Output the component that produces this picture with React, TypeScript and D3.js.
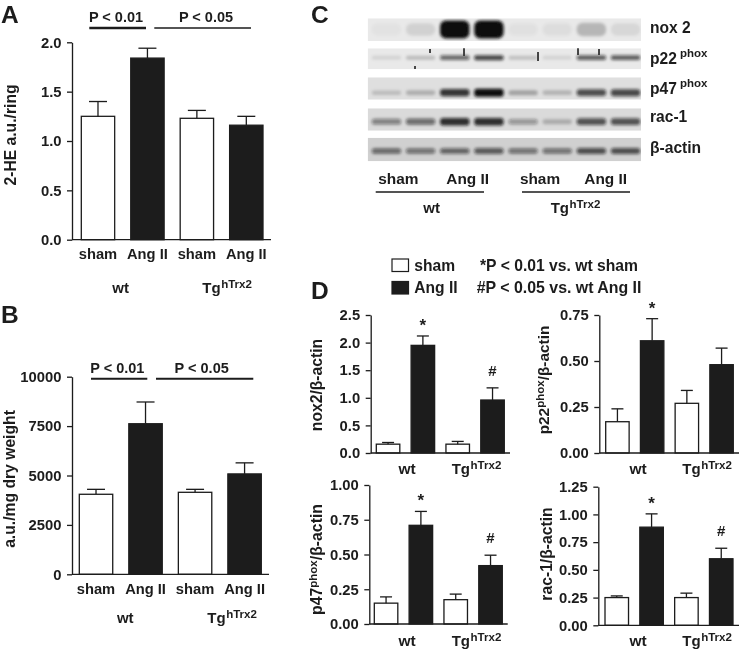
import React, { useEffect, useRef } from "react";
import * as d3 from "d3";

const groups = ["sham", "Ang II", "sham", "Ang II"];

// panel A + B
const heValues = [1.25, 1.84, 1.23, 1.16];
const heTops = [1.4, 1.94, 1.31, 1.25];
const auValues = [4050, 7620, 4150, 5080];
const auTops = [4300, 8720, 4300, 5640];

// panel D
const noxValues = [0.16, 1.95, 0.16, 0.96];
const noxTops = [0.19, 2.12, 0.21, 1.18];
const p22Values = [0.17, 0.61, 0.27, 0.48];
const p22Tops = [0.24, 0.73, 0.34, 0.57];
const p47Values = [0.15, 0.71, 0.175, 0.42];
const p47Tops = [0.195, 0.81, 0.215, 0.495];
const racValues = [0.25, 0.885, 0.25, 0.6];
const racTops = [0.265, 1.005, 0.29, 0.695];

const noxMarks = ["", "*", "", "#"];
const p22Marks = ["", "*", "", ""];
const p47Marks = ["", "*", "", "#"];
const racMarks = ["", "*", "", "#"];

// panel C, band darkness per lane
const lanes = [0, 1, 2, 3, 4, 5, 6, 7];
const noxBands = [0.03, 0.1, 1, 1, 0.04, 0.05, 0.22, 0.08];
const p22Bands = [0.1, 0.2, 0.6, 0.75, 0.18, 0.1, 0.65, 0.65];
const p47Bands = [0.16, 0.22, 0.82, 1, 0.28, 0.2, 0.7, 0.72];
const racBands = [0.45, 0.55, 0.85, 0.85, 0.35, 0.22, 0.68, 0.68];
const actinBands = [0.55, 0.5, 0.58, 0.62, 0.5, 0.5, 0.68, 0.68];

// dust and scratches on the p22 strip: [x, top, bottom]
const p22Scratches = [
  [464, 48, 56],
  [538, 52, 61],
  [578, 48, 55],
  [599, 49, 55],
  [430, 49, 53],
  [415, 66, 69],
];

const INK = "#1c1c1c";
const FONT = "'Liberation Sans', Arial, sans-serif";

const App = () => {
  const svgRef = useRef<SVGSVGElement>(null);

  useEffect(() => {
    const svg = d3.select(svgRef.current);
    svg.selectAll("*").remove();

    const defs = svg.append("defs");
    defs.append("filter").attr("id", "soft")
      .attr("x", "-2%").attr("y", "-2%").attr("width", "104%").attr("height", "104%")
      .append("feGaussianBlur").attr("stdDeviation", 0.3);
    defs.append("filter").attr("id", "band")
      .attr("x", "-10%").attr("y", "-80%").attr("width", "120%").attr("height", "260%")
      .append("feGaussianBlur").attr("stdDeviation", 1.6);
    defs.append("filter").attr("id", "speck")
      .attr("filterUnits", "userSpaceOnUse")
      .attr("x", 360).attr("y", 40).attr("width", 290).attr("height", 40)
      .append("feGaussianBlur").attr("stdDeviation", 0.6);

    const root = svg.append("g")
      .attr("filter", "url(#soft)")
      .attr("font-family", FONT)
      .attr("font-weight", "bold")
      .attr("fill", INK);

    const label = (x, y, txt, size = 14.5, anchor = "start") =>
      root.append("text").attr("x", x).attr("y", y).attr("font-size", size)
        .attr("text-anchor", anchor).text(txt);

    const rule = (x1, x2, y, w) =>
      root.append("line").attr("x1", x1).attr("x2", x2).attr("y1", y).attr("y2", y)
        .attr("stroke", INK).attr("stroke-width", w);

    // Tg with the hTrx2 superscript
    const tgLabel = (x, y, size = 15) => {
      const t = label(x, y, "Tg", size);
      t.append("tspan").attr("dy", -5).attr("dx", 0.5).attr("font-size", size * 0.77).text("hTrx2");
    };

    const barPanel = (p) => {
      const y = d3.scaleLinear().domain([0, p.max]).range([p.y0, p.y1]);
      const x = d3.scaleBand<number>().domain(d3.range(4)).range([p.barLeft, p.barRight]).paddingInner(p.gap);
      const g = root.append("g");

      g.append("g").selectAll("rect").data(p.values).enter().append("rect")
        .attr("x", (d, i) => x(i))
        .attr("y", (d) => y(d))
        .attr("width", x.bandwidth())
        .attr("height", (d) => y(0) - y(d))
        .attr("fill", (d, i) => (i % 2 ? INK : "#fff"))
        .attr("stroke", INK)
        .attr("stroke-width", 1.3);

      // error bars
      const cx = (i) => x(i) + x.bandwidth() / 2;
      const err = g.append("g").attr("stroke", INK).attr("stroke-width", 1.3);
      p.tops.forEach((top, i) => {
        err.append("line").attr("x1", cx(i)).attr("x2", cx(i)).attr("y1", y(p.values[i])).attr("y2", y(top));
        err.append("line").attr("x1", cx(i) - p.cap).attr("x2", cx(i) + p.cap).attr("y1", y(top)).attr("y2", y(top));
      });

      const axis = g.append("g")
        .attr("transform", `translate(${p.axisX},0)`)
        .call(d3.axisLeft(y).tickValues(p.ticks).tickSize(5).tickSizeOuter(0).tickPadding(p.pad).tickFormat(d3.format(p.fmt)));
      axis.selectAll("path,line").attr("stroke", INK).attr("stroke-width", 1.3);
      axis.selectAll("text").attr("font-size", p.tickSize).attr("font-family", FONT).attr("font-weight", "bold").attr("fill", INK);

      g.append("line").attr("x1", p.axisX).attr("x2", p.axisEnd).attr("y1", y(0)).attr("y2", y(0))
        .attr("stroke", INK).attr("stroke-width", 1.3);

      if (p.marks) {
        p.marks.forEach((m, i) => {
          if (!m) return;
          label(cx(i), y(p.tops[i]) - (m === "*" ? 5 : 12), m, m === "*" ? 17 : 15, "middle");
        });
      }
      if (p.groupLabels) {
        groups.forEach((name, i) => label(cx(i), p.y0 + 19.5, name, 14.7, "middle"));
      }
    };

    const basePanel = { gap: 0.325, pad: 5.5, tickSize: 14.8 };
    barPanel({ ...basePanel, values: heValues, tops: heTops, max: 2, ticks: [0, 0.5, 1, 1.5, 2], fmt: ".1f",
      y0: 239.7, y1: 42.3, axisX: 72, axisEnd: 271, barLeft: 81.3, barRight: 263, cap: 9, groupLabels: true });
    barPanel({ ...basePanel, values: auValues, tops: auTops, max: 10000, ticks: [0, 2500, 5000, 7500, 10000], fmt: "d",
      y0: 574.3, y1: 376.7, axisX: 72, axisEnd: 269, barLeft: 79.3, barRight: 261.3, cap: 9, groupLabels: true });
    barPanel({ ...basePanel, values: noxValues, tops: noxTops, marks: noxMarks, max: 2.5, ticks: [0, 0.5, 1, 1.5, 2, 2.5], fmt: ".1f",
      y0: 453, y1: 315, axisX: 370.7, axisEnd: 510, barLeft: 376.3, barRight: 504.3, cap: 6 });
    barPanel({ ...basePanel, values: p22Values, tops: p22Tops, marks: p22Marks, max: 0.75, ticks: [0, 0.25, 0.5, 0.75], fmt: ".2f",
      y0: 453, y1: 315, axisX: 599.3, axisEnd: 739, barLeft: 605.7, barRight: 733.3, cap: 6 });
    barPanel({ ...basePanel, values: p47Values, tops: p47Tops, marks: p47Marks, max: 1, ticks: [0, 0.25, 0.5, 0.75, 1], fmt: ".2f",
      y0: 624, y1: 485, axisX: 369.3, axisEnd: 507.7, barLeft: 374.3, barRight: 502.3, cap: 6 });
    barPanel({ ...basePanel, values: racValues, tops: racTops, marks: racMarks, max: 1.25, ticks: [0, 0.25, 0.5, 0.75, 1, 1.25], fmt: ".2f",
      y0: 625.3, y1: 486.7, axisX: 598.3, axisEnd: 739, barLeft: 605, barRight: 733, cap: 6 });

    // panel letters
    label(1, 23.3, "A", 24.5);
    label(1, 322.7, "B", 24.5);
    label(311, 23.3, "C", 24.5);
    label(311, 298.5, "D", 24.5);

    // y titles
    const yTitle = (x, y, parts, size = 15.7) => {
      const t = root.append("text").attr("transform", `translate(${x},${y}) rotate(-90)`)
        .attr("text-anchor", "middle").attr("font-size", size);
      parts.forEach(([txt, sup]) => {
        t.append("tspan").attr("dy", sup === 1 ? -5 : sup === -1 ? 5 : 0)
          .attr("font-size", sup === 1 ? 11.5 : size).text(txt);
      });
    };
    yTitle(15.5, 135, [["2-HE a.u./ring", 0]]);
    yTitle(14.7, 479, [["a.u./mg dry weight", 0]]);
    yTitle(321.7, 385, [["nox2/β-actin", 0]]);
    yTitle(549.3, 380, [["p22", 0], ["phox", 1], ["/β-actin", -1]], 15.4);
    yTitle(321.7, 559.5, [["p47", 0], ["phox", 1], ["/β-actin", -1]], 15.8);
    yTitle(551.7, 554, [["rac-1/β-actin", 0]]);

    // P value brackets
    label(116, 21.7, "P < 0.01", 14.5, "middle");
    label(206, 21.7, "P < 0.05", 14.5, "middle");
    rule(89.3, 146, 28, 2.4);
    rule(154.3, 251, 28, 1.3);
    label(117.3, 373.3, "P < 0.01", 14.5, "middle");
    label(201.7, 373.3, "P < 0.05", 14.5, "middle");
    rule(91, 147.3, 378.7, 2);
    rule(156, 253.3, 378.7, 2);

    // genotype labels
    label(120.7, 293.3, "wt", 15, "middle");
    tgLabel(202.3, 293.3);
    label(125.3, 623, "wt", 15, "middle");
    tgLabel(207.3, 623);
    label(407, 474.3, "wt", 15.5, "middle");
    tgLabel(451.7, 474.3);
    label(638, 474.3, "wt", 15.5, "middle");
    tgLabel(682.3, 474.3);
    label(407, 646, "wt", 15.5, "middle");
    tgLabel(451.7, 646);
    label(638, 646, "wt", 15.5, "middle");
    tgLabel(682.3, 646);

    // legend
    root.append("rect").attr("x", 392).attr("y", 259).attr("width", 16.5).attr("height", 12.5)
      .attr("fill", "#fff").attr("stroke", INK).attr("stroke-width", 1.2);
    root.append("rect").attr("x", 392).attr("y", 281.5).attr("width", 16.5).attr("height", 12.5)
      .attr("fill", INK).attr("stroke", INK).attr("stroke-width", 1.2);
    label(414.3, 270.7, "sham", 15.6);
    label(414.3, 293.3, "Ang II", 15.6);
    label(480, 270.7, "*P < 0.01 vs. wt sham", 15.7);
    label(476.7, 293.3, "#P < 0.05 vs. wt Ang II", 15.9);

    // blots
    const laneX = d3.scaleBand<number>().domain(lanes).range([368, 644]).padding(0.08);
    const blotRows = [
      { bands: noxBands, top: 18.3, bottom: 41, mid: 29.5, bg: "#e9e9e9", base: 12, grow: 6, round: 6 },
      { bands: p22Bands, top: 48.3, bottom: 69.3, mid: 57.7, bg: "#e9e9e9", base: 3.5, grow: 2, round: 2 },
      { bands: p47Bands, top: 77.3, bottom: 99.7, mid: 92.7, bg: "#dfdfdf", base: 4, grow: 4, round: 3 },
      { bands: racBands, top: 108.3, bottom: 130.7, mid: 121.7, bg: "#dadada", base: 4, grow: 4, round: 3 },
      { bands: actinBands, top: 137.7, bottom: 161.3, mid: 151, bg: "#d0d0d0", base: 4, grow: 3, round: 3 },
    ];
    blotRows.forEach((row, r) => {
      const id = `strip${r}`;
      defs.append("clipPath").attr("id", id).append("rect")
        .attr("x", 367.7).attr("y", row.top).attr("width", 273.3).attr("height", row.bottom - row.top);
      const strip = root.append("g").attr("clip-path", `url(#${id})`);
      strip.append("rect").attr("x", 367.7).attr("y", row.top).attr("width", 273.3)
        .attr("height", row.bottom - row.top).attr("fill", row.bg);
      strip.append("g").attr("filter", "url(#band)").selectAll("rect").data(row.bands).enter().append("rect")
        .attr("x", (d, i) => laneX(i) + 1)
        .attr("width", laneX.bandwidth() - 2)
        .attr("y", (d) => row.mid - (row.base + row.grow * d) / 2)
        .attr("height", (d) => row.base + row.grow * d)
        .attr("rx", row.round)
        .attr("fill", "#111")
        .attr("opacity", (d) => d);
      if (r === 1) {
        strip.append("g").attr("filter", "url(#speck)").selectAll("line").data(p22Scratches).enter().append("line")
          .attr("x1", (d) => d[0]).attr("x2", (d) => d[0])
          .attr("y1", (d) => d[1]).attr("y2", (d) => d[2])
          .attr("stroke", "#333").attr("stroke-width", 1.8);
      }
    });

    label(650, 32.7, "nox 2", 15.6);
    label(650, 64, "p22", 15.6).append("tspan").attr("dy", -7).attr("dx", 3).attr("font-size", 11.5).text("phox");
    label(650, 94.3, "p47", 15.6).append("tspan").attr("dy", -7).attr("dx", 3).attr("font-size", 11.5).text("phox");
    label(650, 122.3, "rac-1", 15.6);
    label(650, 152.7, "β-actin", 15.6);

    label(398.3, 184, "sham", 15.4, "middle");
    label(467.7, 184, "Ang II", 15.4, "middle");
    label(540, 184, "sham", 15.4, "middle");
    label(605.7, 184, "Ang II", 15.4, "middle");
    rule(375.7, 484, 192, 1.5);
    rule(522, 630, 192, 1.5);
    label(431.7, 213.3, "wt", 15, "middle");
    tgLabel(550.7, 213.3);
  }, []);

  return (
    <svg
      ref={svgRef}
      width={739}
      height={652}
      style={{ position: "absolute", left: 0, top: 0, background: "#fff" }}
    />
  );
};

export default App;
